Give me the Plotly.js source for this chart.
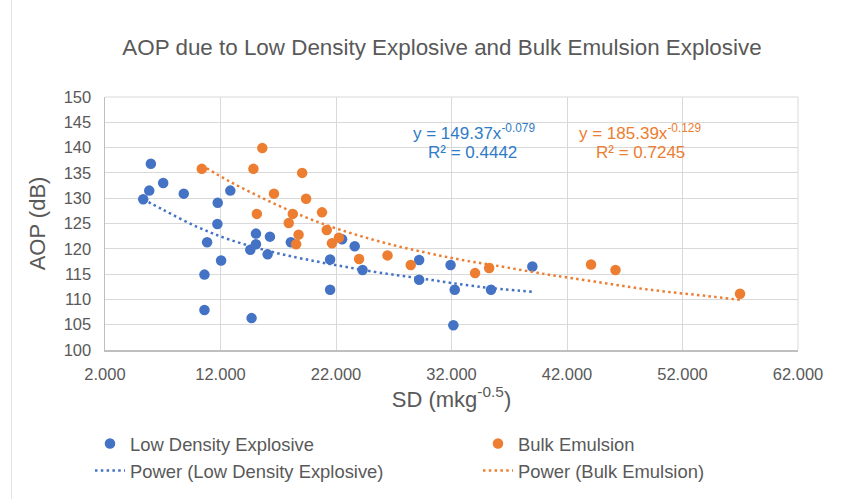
<!DOCTYPE html>
<html>
<head>
<meta charset="utf-8">
<script src="https://cdn.plot.ly/plotly-3.0.1.min.js"></script>
<style>
html,body{margin:0;padding:0;background:#fff;}
#chart{width:841px;height:499px;}
</style>
</head>
<body>
<div id="chart"></div>
<script>
// Low Density Explosive (SD, AOP)
const ldX = [5.31, 5.83, 5.97, 7.04, 8.82, 10.61, 10.61, 10.84, 11.73, 11.76, 12.05, 12.85, 14.58, 14.69, 15.07, 15.07, 16.08, 16.28, 18.09, 21.49, 21.49, 22.53, 23.62, 24.3, 29.2, 29.2, 31.92, 32.28, 32.16, 35.42, 39.0];
const ldY = [129.8, 131.5, 136.8, 133.0, 130.9, 114.9, 107.9, 121.3, 124.9, 129.1, 117.7, 131.5, 119.8, 106.3, 123.0, 120.9, 118.9, 122.4, 121.3, 117.9, 111.9, 121.9, 120.5, 115.8, 117.8, 113.9, 116.8, 111.9, 104.9, 111.9, 116.5];

// Bulk Emulsion (SD, AOP)
const beX = [10.38, 14.85, 15.15, 15.62, 16.63, 17.91, 18.26, 18.55, 18.76, 19.07, 19.41, 20.79, 21.2, 21.65, 22.25, 24.0, 26.46, 28.47, 34.04, 35.26, 44.08, 46.2, 56.98];
const beY = [135.8, 135.8, 126.9, 139.9, 130.9, 125.1, 126.9, 120.9, 122.8, 135.0, 129.9, 127.2, 123.7, 121.1, 122.2, 118.0, 118.7, 116.8, 115.2, 116.2, 116.9, 115.8, 111.1];

// Power trendline (Low Density Explosive)
const ldTrendX = [5.31, 7.04, 9.92, 12.8, 16.8, 20.3, 22.9, 25.75, 30.07, 34.4, 39.0];
const ldTrendY = [129.8, 127.7, 124.4, 121.8, 119.2, 117.5, 116.4, 115.3, 113.9, 112.5, 111.5];

// Power trendline (Bulk Emulsion)
const beTrendX = [10.38, 12.8, 15.67, 18.55, 21.4, 24.3, 27.2, 30.07, 32.9, 35.8, 40.1, 42.4, 45.3, 48.2, 51.1, 54.0, 56.98];
const beTrendY = [136.5, 133.3, 130.0, 127.0, 124.5, 122.4, 120.6, 119.1, 117.8, 116.7, 115.0, 114.2, 113.2, 112.2, 111.4, 110.7, 109.9];

const xTicks = [2, 12, 22, 32, 42, 52, 62];
const yTicks = [100, 105, 110, 115, 120, 125, 130, 135, 140, 145, 150];

const names = ['Low Density Explosive', 'Bulk Emulsion', 'Power (Low Density Explosive)', 'Power (Bulk Emulsion)'];
const eqLD = ['y = 149.37x<sup>-0.079</sup>', 'R² = 0.4442'];
const eqBE = ['y = 185.39x<sup>-0.129</sup>', 'R² = 0.7245'];

const BLUE = '#4472C4', ORANGE = '#ED7D31', TXT = '#595959';
const FONT = 'Arial, "Liberation Sans", sans-serif';

const traces = [
  {x: ldX, y: ldY, name: names[0], type: 'scatter', mode: 'markers', legend: 'legend',
   marker: {color: BLUE, size: 10.5}},
  {x: beX, y: beY, name: names[1], type: 'scatter', mode: 'markers', legend: 'legend2',
   marker: {color: ORANGE, size: 10.5}},
  {x: ldTrendX, y: ldTrendY, name: names[2], type: 'scatter', mode: 'lines', legend: 'legend',
   line: {color: BLUE, width: 2.5, dash: '2.5px,3.3px', shape: 'spline'}},
  {x: beTrendX, y: beTrendY, name: names[3], type: 'scatter', mode: 'lines', legend: 'legend2',
   line: {color: ORANGE, width: 2.5, dash: '2.5px,3.3px', shape: 'spline'}}
];

const L = 105, R = 798, T = 97, B = 350, W = 841, H = 499;
const pw = R - L, ph = B - T;
const px2x = p => (p - L) / pw;
const py2y = p => (B - p) / ph;

const legendBase = {
  orientation: 'v', xanchor: 'left', yanchor: 'top', y: py2y(425),
  font: {size: 18.4, color: TXT, family: FONT},
  bgcolor: 'rgba(0,0,0,0)', traceorder: 'normal', tracegroupgap: 0
};

const layout = {
  width: W, height: H,
  margin: {l: L, r: W - R, t: T, b: H - B, pad: 0, autoexpand: false},
  paper_bgcolor: '#ffffff', plot_bgcolor: '#ffffff',
  font: {family: FONT, color: TXT},
  showlegend: true,
  title: {text: 'AOP due to Low Density Explosive and Bulk Emulsion Explosive',
          font: {size: 22.4, color: TXT, family: FONT},
          xref: 'container', yref: 'container', x: 442 / W, y: 1 - 47 / H,
          xanchor: 'center', yanchor: 'middle'},
  xaxis: {range: [2, 62], tickvals: xTicks, tickformat: '.3f',
          showgrid: true, gridcolor: '#d9d9d9', gridwidth: 1,
          showline: true, linecolor: '#bfbfbf', linewidth: 1.5,
          zeroline: false, ticks: '', ticklabelstandoff: 9,
          tickfont: {size: 16.5, color: TXT, family: FONT},
          title: {text: 'SD (mkg<sup>-0.5</sup>)', font: {size: 22, color: TXT, family: FONT}, standoff: 8}},
  yaxis: {range: [100, 150], tickvals: yTicks,
          showgrid: true, gridcolor: '#d9d9d9', gridwidth: 1,
          showline: true, linecolor: '#bfbfbf', linewidth: 1.5,
          zeroline: false, ticks: '', ticklabelstandoff: 9,
          tickfont: {size: 16.5, color: TXT, family: FONT},
          title: {text: 'AOP (dB)', font: {size: 22, color: TXT, family: FONT}, standoff: 12}},
  legend: Object.assign({}, legendBase, {x: px2x(90)}),
  legend2: Object.assign({}, legendBase, {x: px2x(478)}),
  annotations: [
    {text: eqLD[0], xref: 'paper', yref: 'paper', x: px2x(474), y: py2y(132), showarrow: false,
     xanchor: 'center', yanchor: 'middle', font: {size: 17, color: '#2F7BC6', family: FONT}},
    {text: eqLD[1], xref: 'paper', yref: 'paper', x: px2x(472), y: py2y(152), showarrow: false,
     xanchor: 'center', yanchor: 'middle', font: {size: 17, color: '#2F7BC6', family: FONT}},
    {text: eqBE[0], xref: 'paper', yref: 'paper', x: px2x(640), y: py2y(132), showarrow: false,
     xanchor: 'center', yanchor: 'middle', font: {size: 17, color: ORANGE, family: FONT}},
    {text: eqBE[1], xref: 'paper', yref: 'paper', x: px2x(640), y: py2y(152), showarrow: false,
     xanchor: 'center', yanchor: 'middle', font: {size: 17, color: ORANGE, family: FONT}}
  ],
  shapes: [
    {type: 'line', xref: 'paper', yref: 'paper', x0: 0, x1: 1, y0: 1, y1: 1,
     line: {color: '#d9d9d9', width: 1}},
    {type: 'line', xref: 'paper', yref: 'paper', x0: 1, x1: 1, y0: 0, y1: 1,
     line: {color: '#d9d9d9', width: 1}},
    {type: 'line', xref: 'paper', yref: 'paper', x0: px2x(11.5), x1: px2x(11.5), y0: py2y(0), y1: py2y(H),
     line: {color: '#e3e3e3', width: 1}}
  ]
};

Plotly.newPlot('chart', traces, layout, {staticPlot: true, displayModeBar: false});
</script>
</body>
</html>
